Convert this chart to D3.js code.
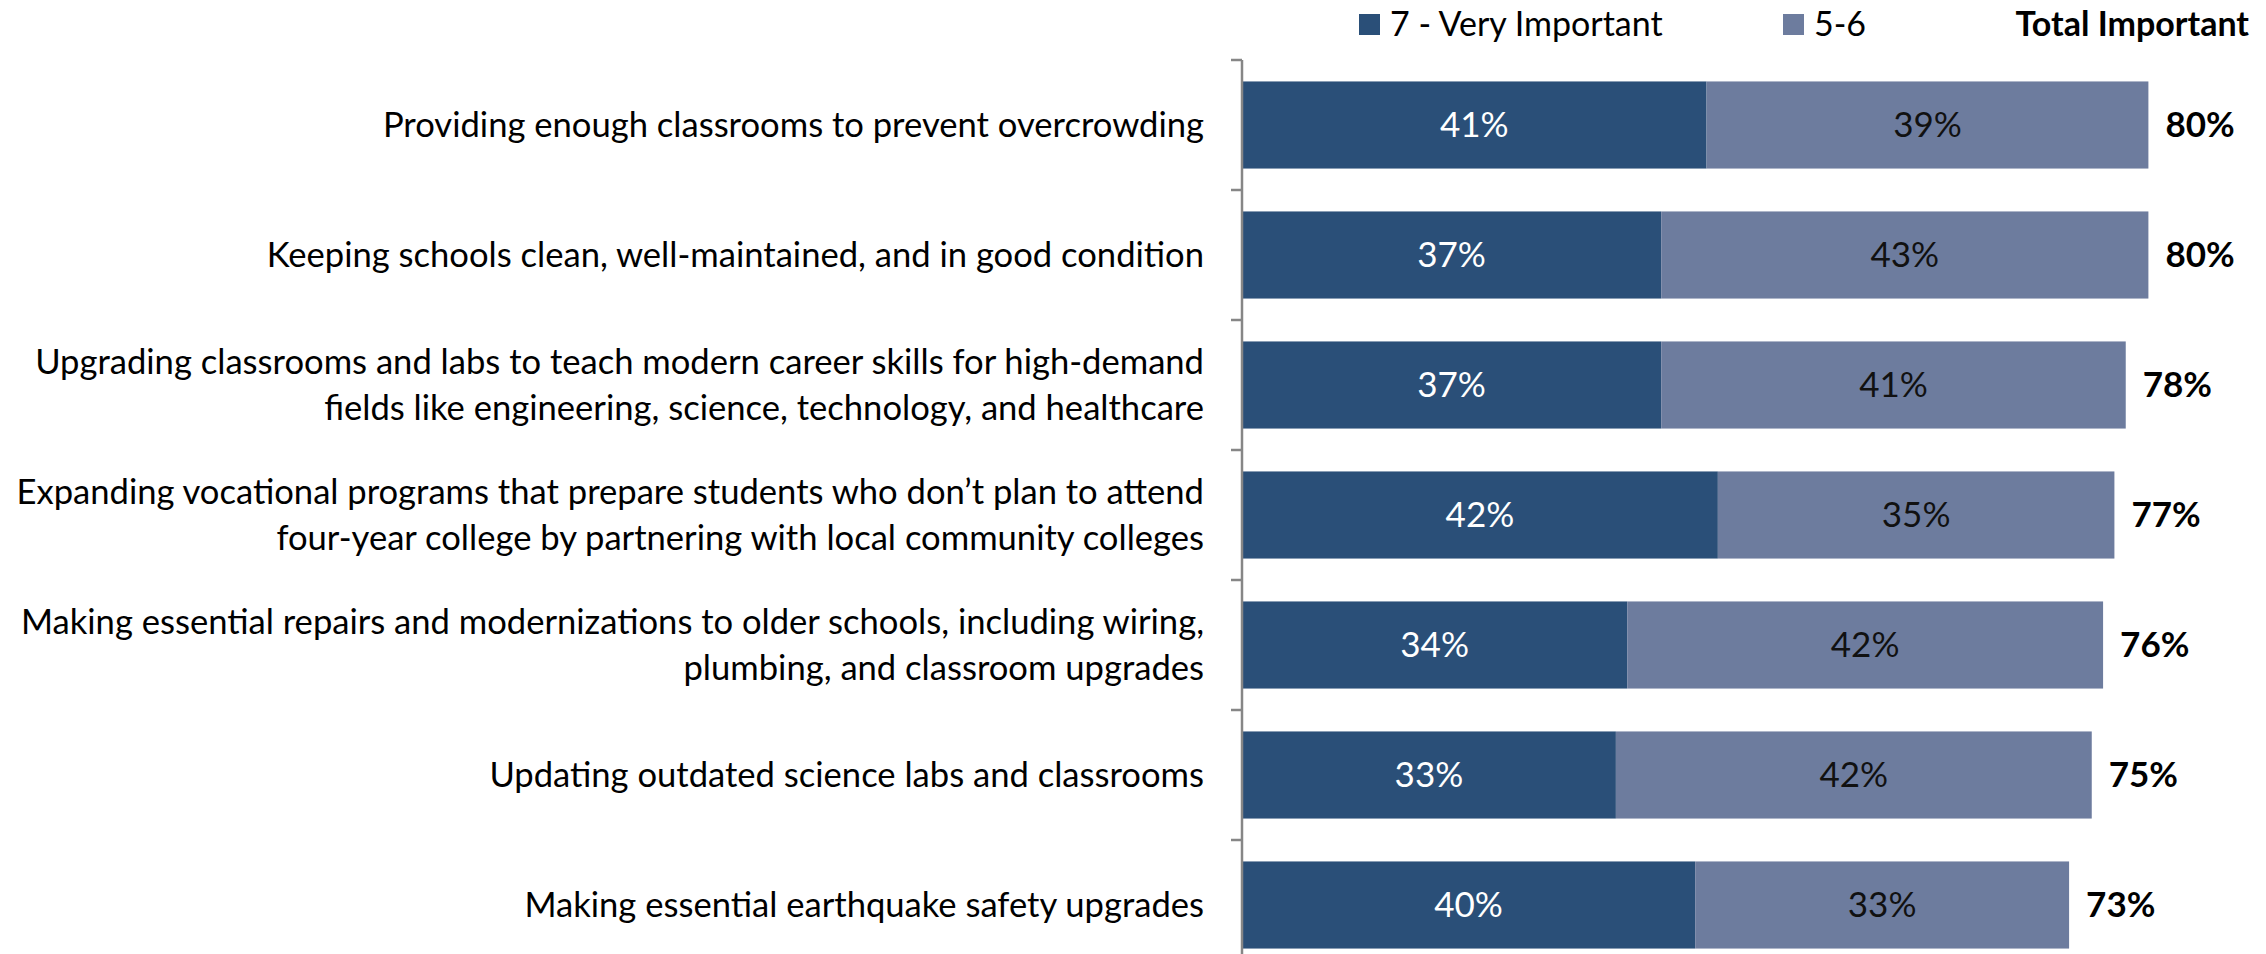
<!DOCTYPE html>
<html>
<head>
<meta charset="utf-8">
<script src="https://cdn.jsdelivr.net/npm/d3@7"></script>
<style>
  body { margin: 0; background: #fff; }
  svg { display: block; font-family: Lato, "Open Sans", sans-serif; }
</style>
</head>
<body>
<script>
// data
var categories = [
  "Providing enough classrooms to prevent overcrowding",
  "Keeping schools clean, well-maintained, and in good condition",
  "Upgrading classrooms and labs to teach modern career skills for high-demand\nfields like engineering, science, technology, and healthcare",
  "Expanding vocational programs that prepare students who don\u2019t plan to attend\nfour-year college by partnering with local community colleges",
  "Making essential repairs and modernizations to older schools, including wiring,\nplumbing, and classroom upgrades",
  "Updating outdated science labs and classrooms",
  "Making essential earthquake safety upgrades"
];
var veryImportant = [41, 37, 37, 42, 34, 33, 40];
var important56 = [39, 43, 41, 35, 42, 42, 33];
var totalImportant = [80, 80, 78, 77, 76, 75, 73];
var seriesNames = ["7 - Very Important", "5-6"];
var totalHeader = "Total Important";
var colors = ["#2a4f78", "#6d7c9e"];

var width = 2266, height = 954;

var svg = d3.select("body").append("svg")
    .attr("width", width)
    .attr("height", height);

var x = d3.scaleLinear().domain([0, 100]).range([1242, 2375]);
var y = d3.scaleBand().domain(categories).range([60, 970])
    .paddingInner(0.33).paddingOuter(0.165);

var rows = categories.map(function(c, i) {
  return {cat: c, v7: veryImportant[i], v56: important56[i], tot: totalImportant[i]};
});

// bars
var g = svg.selectAll("g.row").data(rows).enter().append("g").attr("class", "row");

g.append("rect")
    .attr("x", x(0) + 1)
    .attr("y", function(d) { return y(d.cat); })
    .attr("width", function(d) { return x(d.v7) - x(0) - 1; })
    .attr("height", y.bandwidth())
    .style("fill", colors[0]);

g.append("rect")
    .attr("x", function(d) { return x(d.v7); })
    .attr("y", function(d) { return y(d.cat); })
    .attr("width", function(d) { return x(d.v7 + d.v56) - x(d.v7); })
    .attr("height", y.bandwidth())
    .style("fill", colors[1]);

g.append("text")
    .attr("x", function(d) { return (x(0) + x(d.v7)) / 2; })
    .attr("y", function(d) { return y(d.cat) + y.bandwidth() / 2; })
    .attr("dy", "0.35em")
    .attr("text-anchor", "middle")
    .style("font-size", "35px")
    .style("fill", "#fff")
    .text(function(d) { return d.v7 + "%"; });

g.append("text")
    .attr("x", function(d) { return (x(d.v7) + x(d.v7 + d.v56)) / 2; })
    .attr("y", function(d) { return y(d.cat) + y.bandwidth() / 2; })
    .attr("dy", "0.35em")
    .attr("text-anchor", "middle")
    .style("font-size", "35px")
    .style("fill", "#111")
    .text(function(d) { return d.v56 + "%"; });

g.append("text")
    .attr("x", function(d) { return x(d.v7 + d.v56) + 17; })
    .attr("y", function(d) { return y(d.cat) + y.bandwidth() / 2; })
    .attr("dy", "0.35em")
    .style("font-size", "35px")
    .style("font-weight", "bold")
    .style("fill", "#000")
    .text(function(d) { return d.tot + "%"; });

// category labels
var lab = g.append("text")
    .attr("text-anchor", "end")
    .style("font-size", "34.6px")
    .style("fill", "#000");

lab.each(function(d) {
  var lines = d.cat.split("\n");
  var cy = y(d.cat) + y.bandwidth() / 2;
  var lh = 46;
  d3.select(this).selectAll("tspan").data(lines).enter().append("tspan")
      .attr("x", 1204)
      .attr("y", function(l, j) { return cy + (j - (lines.length - 1) / 2) * lh; })
      .attr("dy", "0.35em")
      .text(function(l) { return l; });
});

// axis line with ticks at band edges
var step = y.step();
var edges = categories.map(function(c) { return y(c) - (step - y.bandwidth()) / 2; });
edges.push(edges[edges.length - 1] + step);

svg.append("line")
    .attr("x1", x(0)).attr("x2", x(0))
    .attr("y1", edges[0]).attr("y2", edges[edges.length - 1])
    .style("stroke", "#868686").style("stroke-width", 2.5);

svg.selectAll("line.tick").data(edges).enter().append("line")
    .attr("class", "tick")
    .attr("x1", x(0) - 11).attr("x2", x(0))
    .attr("y1", function(d) { return d; }).attr("y2", function(d) { return d; })
    .style("stroke", "#868686").style("stroke-width", 2.5);

// legend
var legendX = [1359, 1783];
seriesNames.forEach(function(name, i) {
  svg.append("rect")
      .attr("x", legendX[i]).attr("y", 14)
      .attr("width", 21).attr("height", 21)
      .style("fill", colors[i]);
  svg.append("text")
      .attr("x", legendX[i] + 31).attr("y", 24.5)
      .attr("dy", "0.35em")
      .style("font-size", "34px")
      .style("fill", "#000")
      .text(name);
});

svg.append("text")
    .attr("x", 2249).attr("y", 24.5)
    .attr("dy", "0.35em")
    .attr("text-anchor", "end")
    .style("font-size", "34px")
    .style("font-weight", "bold")
    .style("fill", "#000")
    .text(totalHeader);
</script>
</body>
</html>
